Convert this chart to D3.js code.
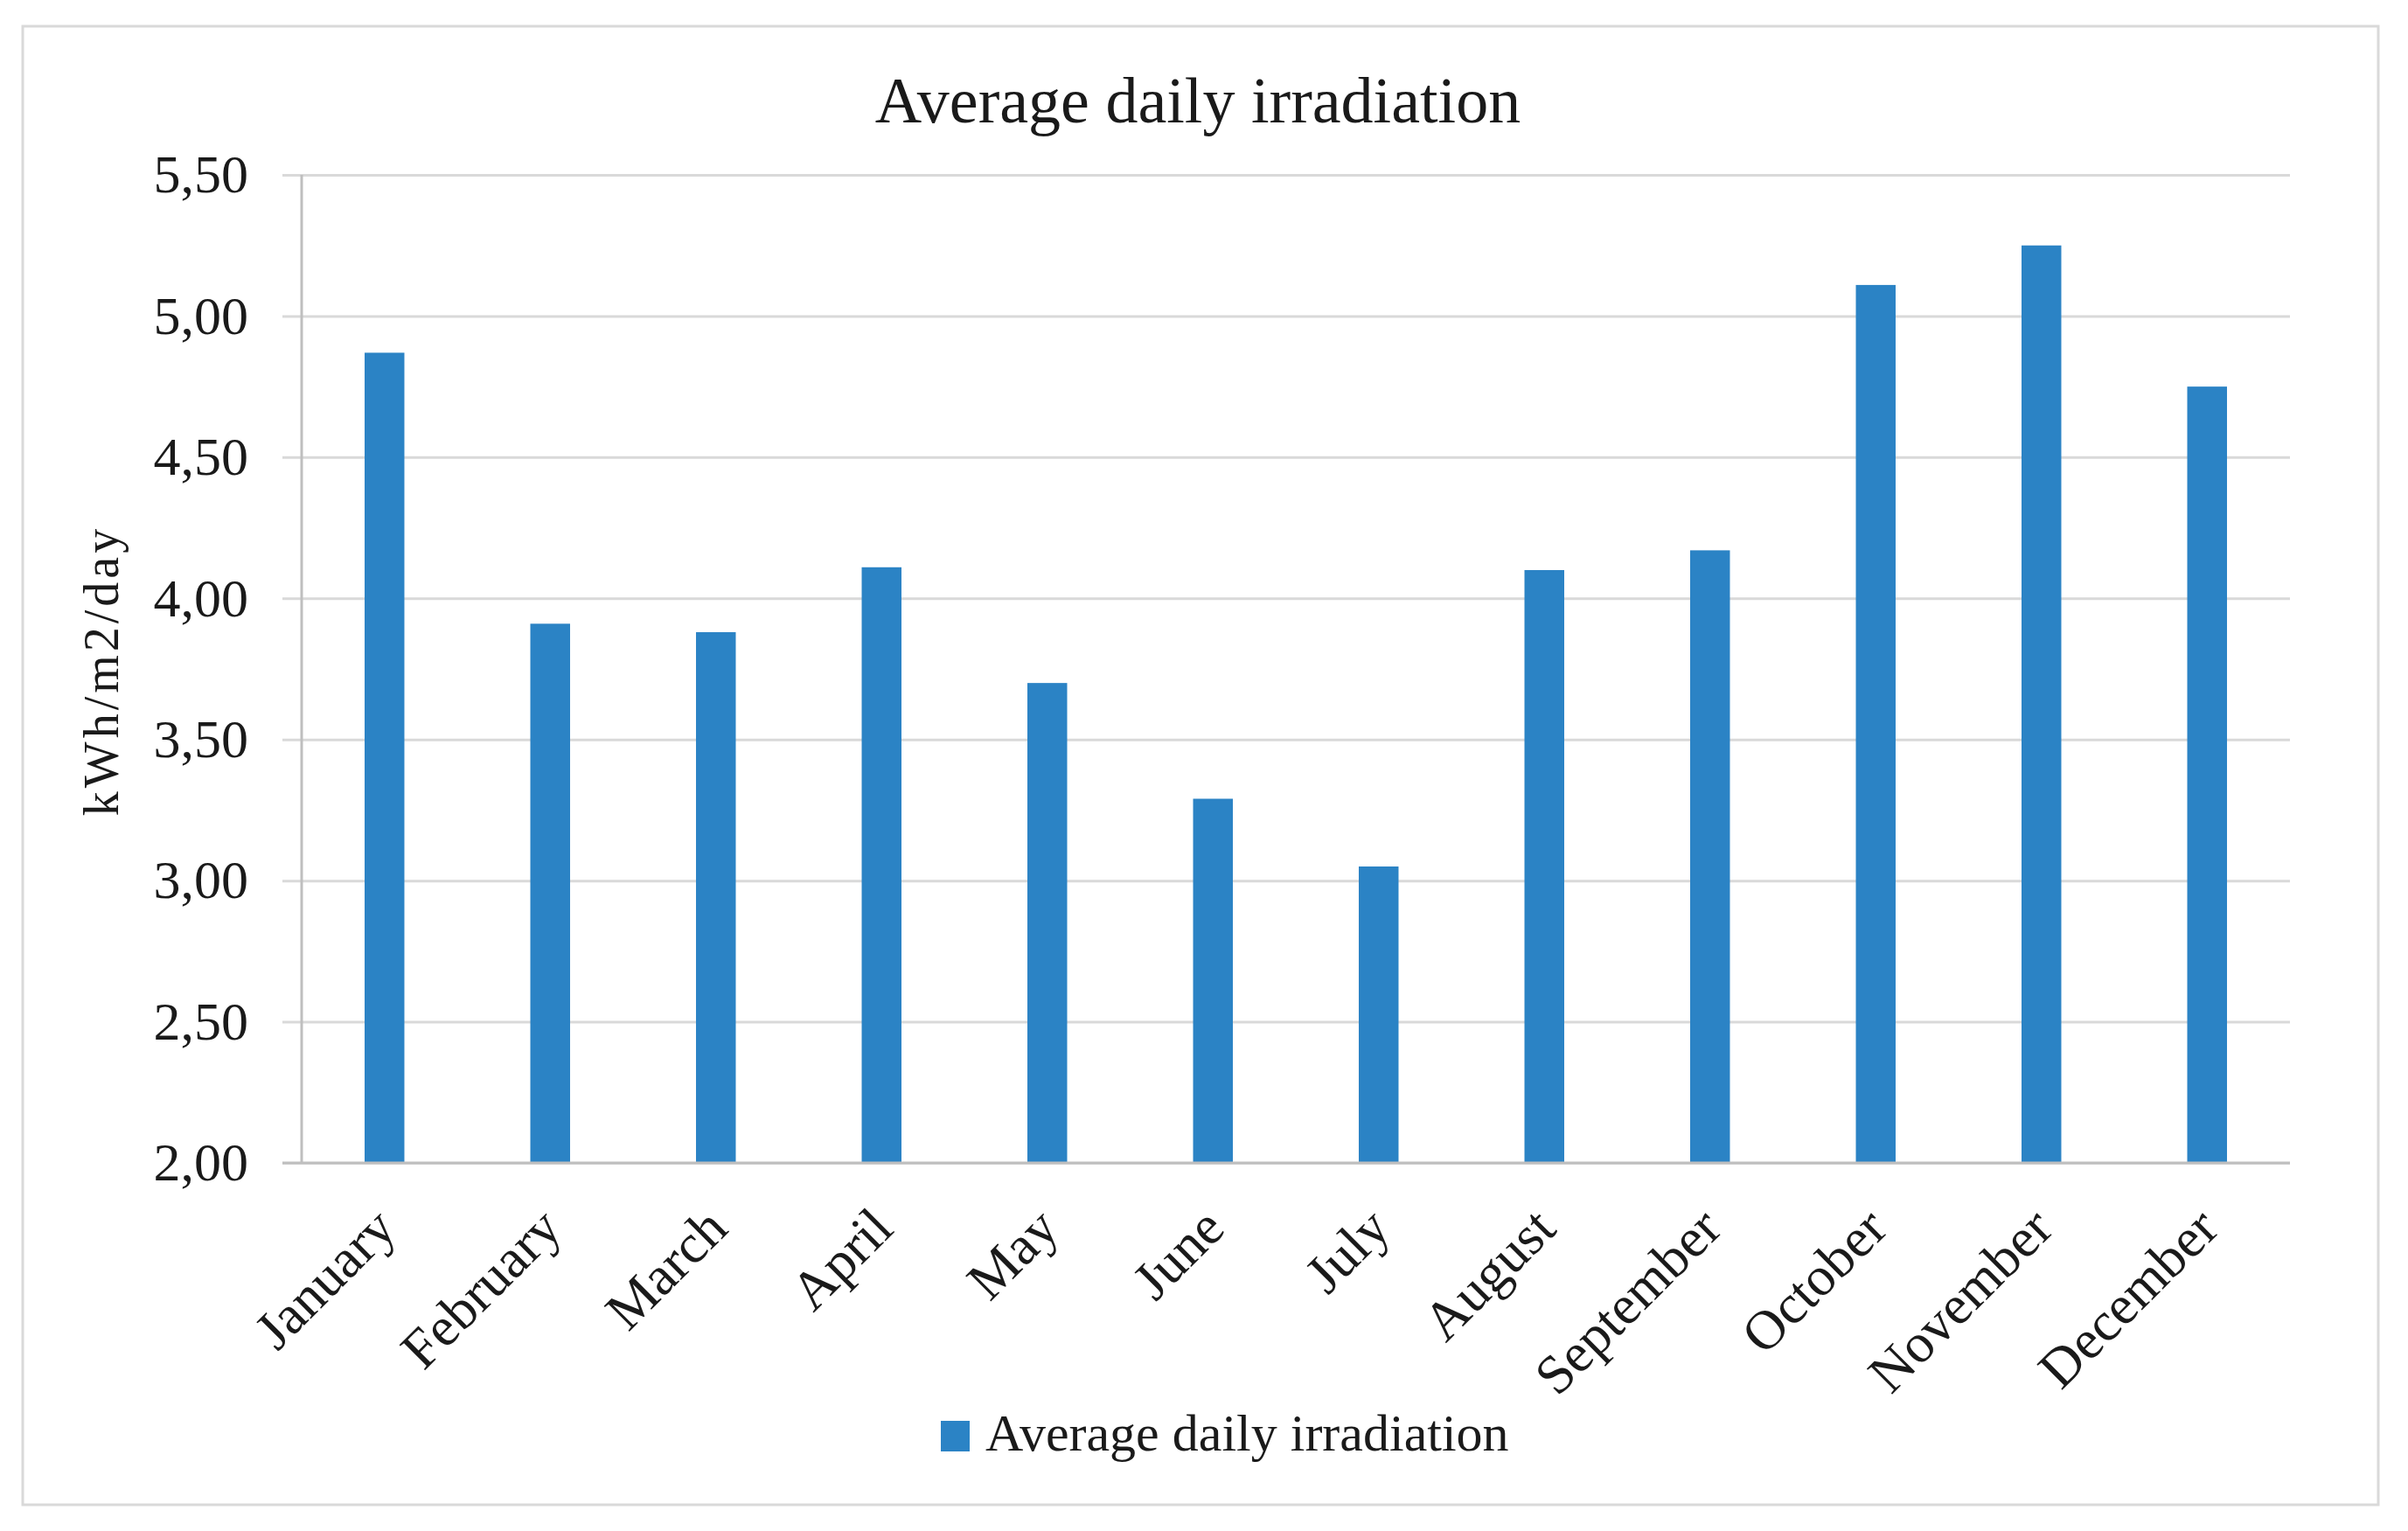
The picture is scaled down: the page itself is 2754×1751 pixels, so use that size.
<!DOCTYPE html>
<html>
<head>
<meta charset="utf-8">
<script src="https://cdn.jsdelivr.net/npm/d3@7"></script>
<style>
  html, body { margin: 0; padding: 0; background: #fff; }
  svg { display: block; }
  text { font-family: "Liberation Serif", "Times New Roman", serif; fill: #1a1a1a; }
</style>
</head>
<body>
<script>
const months = ["January","February","March","April","May","June","July","August","September","October","November","December"];
const irradiation = [4.87, 3.91, 3.88, 4.11, 3.70, 3.29, 3.05, 4.10, 4.17, 5.11, 5.25, 4.75];
const yTicks = [2.00, 2.50, 3.00, 3.50, 4.00, 4.50, 5.00, 5.50];
const chartTitle = "Average daily irradiation";
const yAxisTitle = "kWh/m2/day";
const seriesName = "Average daily irradiation";

const W = 2754, H = 1751;
const margin = { left: 345, right: W - 2619, top: 200, bottom: H - 1330 };
const plotW = W - margin.left - margin.right;
const plotH = H - margin.top - margin.bottom;

const svg = d3.select("body").append("svg").attr("width", W).attr("height", H);
svg.append("rect").attr("width", W).attr("height", H).attr("fill", "#fff");
svg.append("rect").attr("x", 26).attr("y", 30).attr("width", 2694).attr("height", 1691)
  .attr("fill", "none").attr("stroke", "#d9d9d9").attr("stroke-width", 3);

const g = svg.append("g").attr("transform", `translate(${margin.left},${margin.top})`);

const x = d3.scaleBand().domain(months).range([0, plotW]).paddingInner(0.76).paddingOuter(0.38);
const y = d3.scaleLinear().domain([2, 5.5]).range([plotH, 0]);

// gridlines + y axis
const yAxis = d3.axisLeft(y).tickValues(yTicks)
  .tickFormat(d => d3.format(".2f")(d).replace(".", ","))
  .tickSize(-plotW).tickPadding(61);
const yg = g.append("g").call(yAxis);
yg.select(".domain").remove();
yg.selectAll(".tick line").attr("x1", -22).attr("stroke", "#d9d9d9").attr("stroke-width", 3);
yg.selectAll(".tick text").attr("font-size", 62).attr("fill", "#1a1a1a")
  .attr("font-family", "Liberation Serif, serif").attr("dy", "0.32em");

// y axis line
g.append("line").attr("x1", 0).attr("x2", 0).attr("y1", 0).attr("y2", plotH)
  .attr("stroke", "#bfbfbf").attr("stroke-width", 3);

// bars
g.selectAll("rect.bar").data(irradiation).enter().append("rect")
  .attr("class", "bar")
  .attr("x", (d, i) => x(months[i]))
  .attr("width", x.bandwidth())
  .attr("y", d => y(d))
  .attr("height", d => plotH - y(d))
  .attr("fill", "#2B83C5");

// x axis
const xAxis = d3.axisBottom(x).tickSize(0).tickPadding(0);
const xg = g.append("g").attr("transform", `translate(0,${plotH})`).call(xAxis);
xg.select(".domain").attr("stroke", "#bfbfbf").attr("stroke-width", 3)
  .attr("d", `M-22,0H${plotW}`);
xg.selectAll(".tick text")
  .attr("font-size", 63).attr("fill", "#1a1a1a").attr("font-family", "Liberation Serif, serif")
  .attr("text-anchor", "end")
  .attr("dy", 0).attr("y", 0)
  .attr("transform", "translate(16,78) rotate(-45)");

// y axis title
svg.append("text")
  .attr("transform", `translate(135,${margin.top + plotH / 2 + 2}) rotate(-90)`)
  .attr("text-anchor", "middle").attr("font-size", 56).attr("letter-spacing", 4)
  .text(yAxisTitle);

// chart title
svg.append("text").attr("x", 1370).attr("y", 140).attr("text-anchor", "middle")
  .attr("font-size", 74).text(chartTitle);

// legend
const lg = svg.append("g").attr("transform", "translate(1076,1625)");
lg.append("rect").attr("width", 33).attr("height", 35).attr("fill", "#2B83C5");
lg.append("text").attr("x", 51).attr("y", 34).attr("font-size", 60).text(seriesName);
</script>
</body>
</html>
